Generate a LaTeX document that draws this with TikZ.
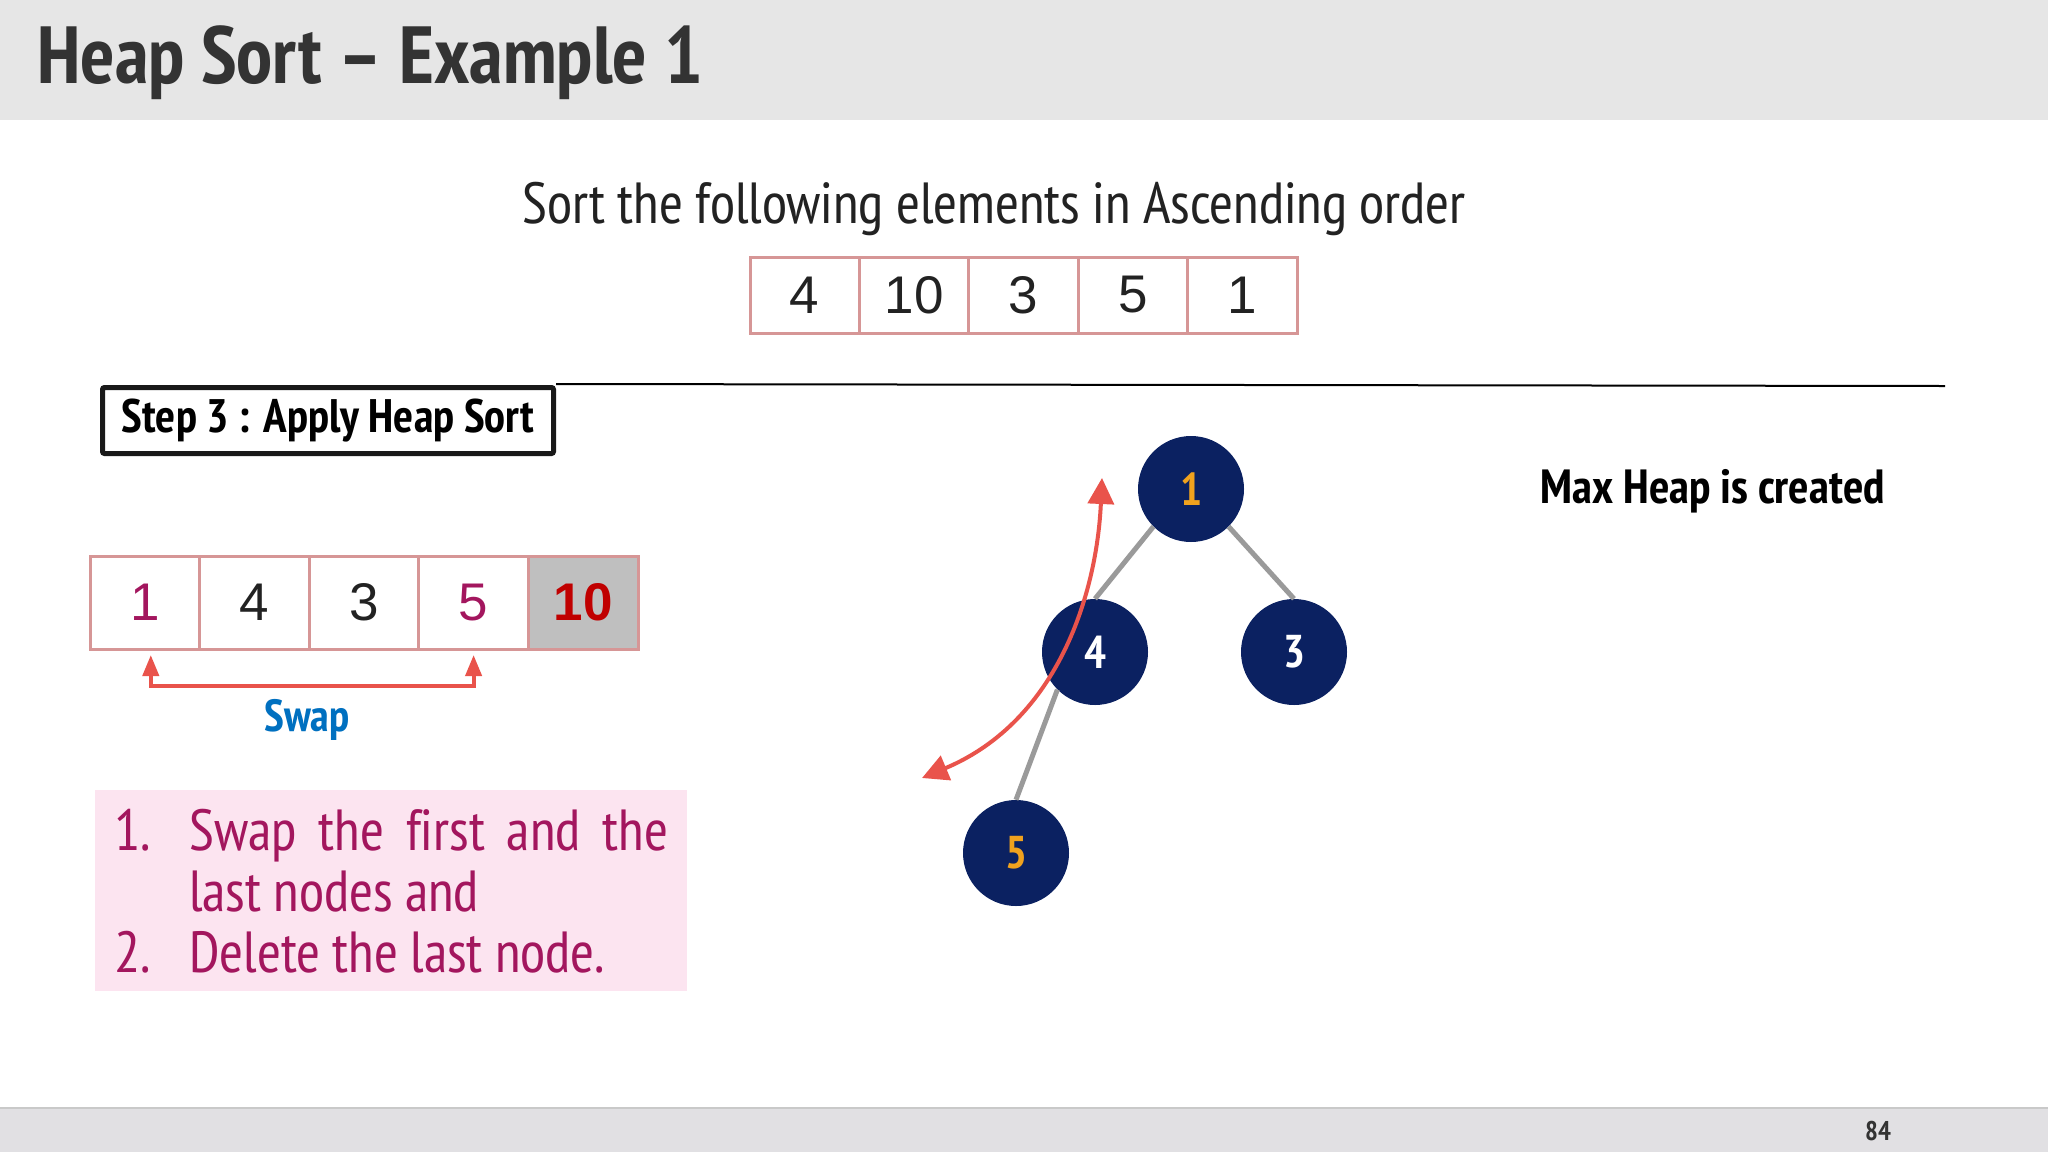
\documentclass[tikz,border=0pt]{standalone}
\usepackage{fontspec}
\setmainfont{Liberation Sans}
\IfFontExistsTF{PT Sans Narrow}
  {\newfontfamily\narrowfont[Ligatures=NoCommon]{PT Sans Narrow}}
  {\newfontfamily\narrowfont[FakeStretch=0.85]{Liberation Sans}}
\usetikzlibrary{positioning}
\usetikzlibrary{arrows.meta}

\definecolor{barbg}{HTML}{E6E6E6}
\definecolor{footbg}{HTML}{E1E0E3}
\definecolor{footline}{HTML}{C9C9C9}
\definecolor{titlegrey}{HTML}{333333}
\definecolor{numdark}{HTML}{222222}
\definecolor{cellline}{HTML}{D69696}
\definecolor{magtext}{HTML}{A3165E}
\definecolor{notefill}{HTML}{FCE4F0}
\definecolor{tenred}{HTML}{C00000}
\definecolor{donegrey}{HTML}{BFBFBF}
\definecolor{swapred}{HTML}{E9534B}
\definecolor{swapblue}{HTML}{0070C0}
\definecolor{heapnavy}{HTML}{0B2161}
\definecolor{heaporange}{HTML}{F0A21E}
\definecolor{edgegrey}{HTML}{9A9A9A}

\begin{document}
\begin{tikzpicture}[x=1pt,y=-1pt,
    topcell/.style={draw=cellline, line width=3pt, minimum width=109.4pt,
        minimum height=76pt, inner sep=0pt, outer sep=0pt,
        font=\fontsize{53}{60}\selectfont, text=numdark},
    workcell/.style={draw=cellline, line width=3pt, minimum width=109.6pt,
        minimum height=93pt, inner sep=0pt, outer sep=0pt,
        font=\fontsize{53}{60}\selectfont, text=numdark},
    heapnode/.style={circle, fill=heapnavy, minimum size=106pt, inner sep=0pt,
        font=\narrowfont\bfseries\fontsize{46}{52}\selectfont, text=white},
    treeedge/.style={draw=edgegrey, line width=5pt},
    stepbox/.style={draw=black!90, line width=5pt, rounded corners=2pt,
        minimum width=451pt, minimum height=66pt, inner sep=0pt,
        font=\narrowfont\bfseries\fontsize{47}{54}\selectfont},
    notebox/.style={fill=notefill, text width=554pt, inner xsep=19pt, inner ysep=0pt,
        minimum height=201pt, align=justify, text=magtext,
        font=\narrowfont\fontsize{58}{61}\selectfont}]
    \useasboundingbox (0,0) rectangle (2048,1152);
    \fill[white] (0,0) rectangle (2048,1152);

    % title and footer bars
    \fill[barbg] (0,0) rectangle (2048,120);
    \node[anchor=west, inner sep=0pt, text=titlegrey,
        font=\narrowfont\bfseries\fontsize{81}{88}\selectfont] (title) at (37,63) {Heap Sort – Example 1};
    \fill[footbg] (0,1108) rectangle (2048,1152);
    \draw[footline, line width=2pt] (0,1108) -- (2048,1108);
    \node[text=titlegrey, font=\narrowfont\bfseries\fontsize{27}{32}\selectfont] (pagenum) at (1878,1131) {84};

    % given elements
    \node[text=numdark, font=\narrowfont\fontsize{58}{66}\selectfont] (task) at (994,209)
        {Sort the following elements in Ascending order};
    \foreach \v [count=\i] in {4,10,3,5,1}
        \node[topcell] (t\i) at ({750+109.4*(\i-0.5)},295) {\v};

    % step heading
    \node[stepbox] (step) at (328,420.5) {Step 3 : Apply Heap Sort};
    \coordinate (ruleend) at (1945,386);
    \draw[line width=2pt] (step.north east) ++(0,-1) -- (ruleend);

    % working array
    \node[workcell, text=magtext] (b1) at (144.8,602.5) {1};
    \node[workcell, right=0pt of b1] (b2) {4};
    \node[workcell, right=0pt of b2] (b3) {3};
    \node[workcell, text=magtext, right=0pt of b3] (b4) {5};
    \node[workcell, fill=donegrey, text=tenred, font=\bfseries\fontsize{53}{60}\selectfont,
        right=0pt of b4] (b5) {10};

    \coordinate (swapbase) at (307,686);
    \draw[swapred, line width=4pt, {Triangle[length=21pt,width=16pt]}-{Triangle[length=21pt,width=16pt]},
        shorten <=6pt, shorten >=6pt] ([xshift=6pt]b1.south) |- (swapbase) -| (b4.south);
    \node[text=swapblue, font=\narrowfont\bfseries\fontsize{45}{52}\selectfont] (swaplbl) at (307,720) {Swap};

    % instructions
    \node[notebox, anchor=north west] (steps) at (95,790) {\parindent=0pt\hangindent=75pt\hangafter=1%
        \makebox[75pt][l]{1.}Swap the first and the\linebreak last nodes and\par
        \makebox[75pt][l]{2.}Delete the last node.};

    % heap
    \node[heapnode, text=heaporange] (n1) at (1191,489) {1};
    \node[heapnode] (n4) at (1095,652) {4};
    \node[heapnode] (n3) at (1294,652) {3};
    \node[heapnode, text=heaporange] (n5) at (1016,853) {5};
    \draw[treeedge] (n1.south west) -- (n4.north);
    \draw[treeedge] (n1.south east) -- (n3.north);
    \draw[treeedge] (n4.south west) -- (n5.north);

    \coordinate (arrtop) at (1102,478);
    \coordinate (arrbot) at (922,778);
    \draw[swapred, line width=4pt, {Triangle[length=26pt,width=26pt]}-{Triangle[length=26pt,width=26pt]}]
        (arrtop) .. controls (1097,590) and (1060,720) .. (arrbot);

    \node[text=black, font=\narrowfont\bfseries\fontsize{48}{55}\selectfont] (heapnote) at (1713,491)
        {Max Heap is created};
\end{tikzpicture}
\end{document}
